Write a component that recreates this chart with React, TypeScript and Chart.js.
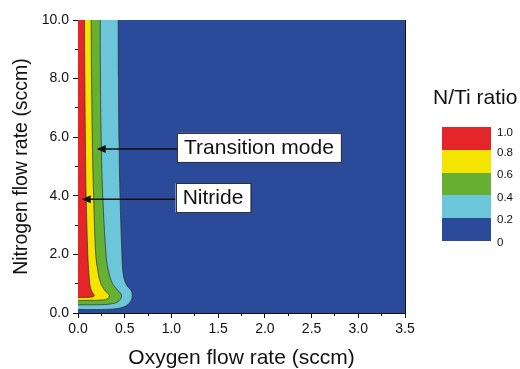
import React, { useEffect, useRef } from "react";
import { Chart, registerables } from "chart.js";

Chart.register(...registerables);

const FONT = '"Liberation Sans", Arial, Helvetica, sans-serif';
const INK = "#111111";

// Axis ticks
const xTickValues = [0, 0.5, 1, 1.5, 2, 2.5, 3, 3.5];
const xTickLabels = ["0.0", "0.5", "1.0", "1.5", "2.0", "2.5", "3.0", "3.5"];
const yTickValues = [0, 2, 4, 6, 8, 10];
const yTickLabels = ["0.0", "2.0", "4.0", "6.0", "8.0", "10.0"];

// Contour boundaries (O2 flow x, N2 flow y), traced from top edge around the tip back to x = 0
// N/Ti >= 0.8 (red)
const red08X = [0.070, 0.073, 0.080, 0.087, 0.105, 0.118, 0.128, 0.150, 0.175, 0.160, 0.110, 0.050, 0.000];
const red08Y = [10.0, 8.0, 5.6, 4.0, 2.0, 1.30, 0.95, 0.72, 0.60, 0.555, 0.535, 0.53, 0.53];
// N/Ti >= 0.6 (yellow)
const yellow06X = [0.141, 0.145, 0.155, 0.167, 0.190, 0.215, 0.240, 0.285, 0.335, 0.310, 0.230, 0.120, 0.000];
const yellow06Y = [10.0, 8.0, 5.6, 4.0, 2.0, 1.40, 1.05, 0.78, 0.60, 0.48, 0.44, 0.43, 0.43];
// N/Ti >= 0.4 (green)
const green04X = [0.238, 0.240, 0.250, 0.265, 0.300, 0.325, 0.370, 0.430, 0.465, 0.440, 0.370, 0.200, 0.000];
const green04Y = [10.0, 8.0, 5.6, 4.0, 2.0, 1.45, 1.00, 0.76, 0.60, 0.42, 0.32, 0.28, 0.28];
// N/Ti >= 0.2 (cyan)
const cyan02X = [0.430, 0.432, 0.440, 0.450, 0.470, 0.485, 0.520, 0.565, 0.580, 0.560, 0.500, 0.380, 0.200, 0.000];
const cyan02Y = [10.0, 8.0, 5.6, 4.0, 2.0, 1.30, 0.95, 0.78, 0.60, 0.38, 0.22, 0.14, 0.12, 0.12];
// N/Ti < 0.2 (blue) covers the whole domain
const domainX = [0, 3.5];
const domainY = [0, 10];

// Colour scale
const legendLabels = ["1.0", "0.8", "0.6", "0.4", "0.2", "0"];
const bandColors = ["#E4262A", "#F4E400", "#66B032", "#6CC6D9", "#2C4A9A"];

// Annotations
const annotations = [
  { text: "Transition mode", x: 0.2, y: 5.6, boxX: 1.06 },
  { text: "Nitride", x: 0.04, y: 3.88, boxX: 1.045 },
];

function regionPoints(xs: number[], ys: number[]) {
  const pts: { x: number; y: number }[] = [];
  pts.push({ x: -0.3, y: 10.6 });
  pts.push({ x: xs[0], y: 10.6 });
  xs.forEach((x, i) => pts.push({ x, y: ys[i] }));
  pts.push({ x: -0.3, y: ys[ys.length - 1] });
  return pts;
}

function domainPoints() {
  return [
    { x: domainX[0] - 0.5, y: domainY[0] - 0.5 },
    { x: domainX[1] + 0.5, y: domainY[0] - 0.5 },
    { x: domainX[1] + 0.5, y: domainY[1] + 0.5 },
    { x: domainX[0] - 0.5, y: domainY[1] + 0.5 },
  ];
}

const annotationPlugin = {
  id: "arrowLabels",
  afterDatasetsDraw(chart: any) {
    const ctx = chart.ctx;
    const xs = chart.scales.x;
    const ys = chart.scales.y;
    ctx.save();
    ctx.font = `21px ${FONT}`;
    for (const a of annotations) {
      const tx = xs.getPixelForValue(a.x);
      const ty = ys.getPixelForValue(a.y);
      const bx = xs.getPixelForValue(a.boxX);
      const tw = ctx.measureText(a.text).width;
      const padX = 7;
      const bw = tw + padX * 2;
      const bh = 29;
      const by = ty - 16;
      // line
      ctx.strokeStyle = INK;
      ctx.lineWidth = 1.5;
      ctx.beginPath();
      ctx.moveTo(bx, ty);
      ctx.lineTo(tx + 8, ty);
      ctx.stroke();
      // head
      ctx.fillStyle = INK;
      ctx.beginPath();
      ctx.moveTo(tx, ty);
      ctx.lineTo(tx + 9, ty - 4);
      ctx.lineTo(tx + 9, ty + 4);
      ctx.closePath();
      ctx.fill();
      // box
      ctx.fillStyle = "#ffffff";
      ctx.fillRect(bx, by, bw, bh);
      ctx.strokeStyle = "#333333";
      ctx.lineWidth = 1;
      ctx.strokeRect(Math.round(bx) + 0.5, Math.round(by) + 0.5, Math.round(bw), Math.round(bh));
      ctx.fillStyle = INK;
      ctx.textBaseline = "middle";
      ctx.textAlign = "left";
      ctx.fillText(a.text, bx + padX, by + bh / 2 + 0.5);
    }
    ctx.restore();
  },
};

export default function App() {
  const canvasRef = useRef<HTMLCanvasElement | null>(null);

  useEffect(() => {
    const canvas = canvasRef.current;
    if (!canvas) return;
    const edge = "rgba(40,40,40,0.85)";
    const mk = (label: string, data: any[], color: string, border: boolean) => ({
      label,
      data,
      backgroundColor: color,
      borderColor: border ? edge : "rgba(0,0,0,0)",
      borderWidth: border ? 0.8 : 0,
      fill: "shape",
      pointRadius: 0,
      pointHoverRadius: 0,
      tension: 0.4,
      clip: 0,
      xAxisID: "x",
      yAxisID: "y",
    });
    const chart = new Chart(canvas, {
      type: "line",
      data: {
        datasets: [
          mk("0.8-1.0", regionPoints(red08X, red08Y), bandColors[0], true),
          mk("0.6-0.8", regionPoints(yellow06X, yellow06Y), bandColors[1], true),
          mk("0.4-0.6", regionPoints(green04X, green04Y), bandColors[2], true),
          mk("0.2-0.4", regionPoints(cyan02X, cyan02Y), bandColors[3], true),
          mk("0-0.2", domainPoints(), bandColors[4], false),
        ] as any,
      },
      options: {
        animation: false,
        responsive: false,
        devicePixelRatio: 1,
        events: [],
        layout: { padding: { left: 0, right: 115, top: 20, bottom: 0 } },
        elements: { line: { capBezierPoints: false } as any },
        plugins: { legend: { display: false }, tooltip: { enabled: false } },
        scales: {
          x: {
            type: "linear",
            position: "bottom",
            min: 0,
            max: 3.5,
            weight: 1,
            z: 1,
            afterBuildTicks: (a: any) => {
              a.ticks = xTickValues.map((v) => ({ value: v }));
            },
            ticks: {
              callback: (v: any) => xTickLabels[xTickValues.indexOf(Number(v))],
              font: { size: 14, family: FONT },
              color: INK,
              padding: 3,
              maxRotation: 0,
              autoSkip: false,
            },
            grid: { drawOnChartArea: false, tickLength: 5, tickColor: INK, color: INK },
            border: { display: true, color: INK, width: 1 },
            title: {
              display: true,
              text: "Oxygen flow rate (sccm)",
              font: { size: 21, family: FONT, lineHeight: 1 },
              color: INK,
              padding: { top: 0, bottom: 0 },
            },
            afterFit: (s: any) => {
              s.height = 56;
            },
          },
          xMinor: {
            type: "linear",
            position: "bottom",
            min: 0,
            max: 3.5,
            weight: 0,
            z: 1,
            ticks: { stepSize: 0.25, display: false },
            grid: { drawOnChartArea: false, tickLength: 3, tickColor: INK },
            border: { display: false },
            afterFit: (s: any) => {
              s.height = 0;
            },
          },
          xTop: {
            type: "linear",
            position: "top",
            min: 0,
            max: 3.5,
            z: 1,
            ticks: { display: false },
            grid: { drawOnChartArea: false, drawTicks: false },
            border: { display: true, color: INK, width: 1 },
            afterFit: (s: any) => {
              s.height = 0;
            },
          },
          y: {
            type: "linear",
            position: "left",
            min: 0,
            max: 10,
            weight: 1,
            z: 1,
            afterBuildTicks: (a: any) => {
              a.ticks = yTickValues.map((v) => ({ value: v }));
            },
            ticks: {
              callback: (v: any) => yTickLabels[yTickValues.indexOf(Number(v))],
              font: { size: 14, family: FONT },
              color: INK,
              padding: 4,
              autoSkip: false,
            },
            grid: { drawOnChartArea: false, tickLength: 5, tickColor: INK, color: INK },
            border: { display: true, color: INK, width: 1 },
            title: {
              display: true,
              text: "Nitrogen flow rate (sccm)",
              font: { size: 19.5, family: FONT, lineHeight: 1.2 },
              color: INK,
              padding: { top: 10, bottom: 0 },
            },
            afterFit: (s: any) => {
              s.width = 78;
            },
          },
          yMinor: {
            type: "linear",
            position: "left",
            min: 0,
            max: 10,
            weight: 0,
            z: 1,
            ticks: { stepSize: 1, display: false },
            grid: { drawOnChartArea: false, tickLength: 3, tickColor: INK },
            border: { display: false },
            afterFit: (s: any) => {
              s.width = 0;
            },
          },
          yRight: {
            type: "linear",
            position: "right",
            min: 0,
            max: 10,
            z: 1,
            ticks: { display: false },
            grid: { drawOnChartArea: false, drawTicks: false },
            border: { display: true, color: INK, width: 1 },
            afterFit: (s: any) => {
              s.width = 0;
            },
          },
        } as any,
      },
      plugins: [annotationPlugin],
    });
    return () => chart.destroy();
  }, []);

  const labelCenters = [132.3, 152, 174, 196.8, 218.7, 242];
  return (
    <div style={{ position: "absolute", left: 0, top: 0, width: 520, height: 369, background: "#ffffff", fontFamily: FONT }}>
      <canvas ref={canvasRef} width={520} height={369} style={{ display: "block", width: 520, height: 369 }} />
      <div style={{ position: "absolute", left: 433, top: 86, fontSize: 21, lineHeight: "21px", color: INK, whiteSpace: "nowrap" }}>
        N/Ti ratio
      </div>
      {bandColors.map((c, i) => (
        <div
          key={c}
          style={{ position: "absolute", left: 442, top: 127.3 + i * 22.7, width: 49, height: 22.8, background: c }}
        />
      ))}
      {legendLabels.map((l, i) => (
        <div
          key={l}
          style={{
            position: "absolute",
            left: 497,
            top: labelCenters[i] - 7,
            fontSize: 11.5,
            lineHeight: "14px",
            color: INK,
            whiteSpace: "nowrap",
          }}
        >
          {l}
        </div>
      ))}
    </div>
  );
}
